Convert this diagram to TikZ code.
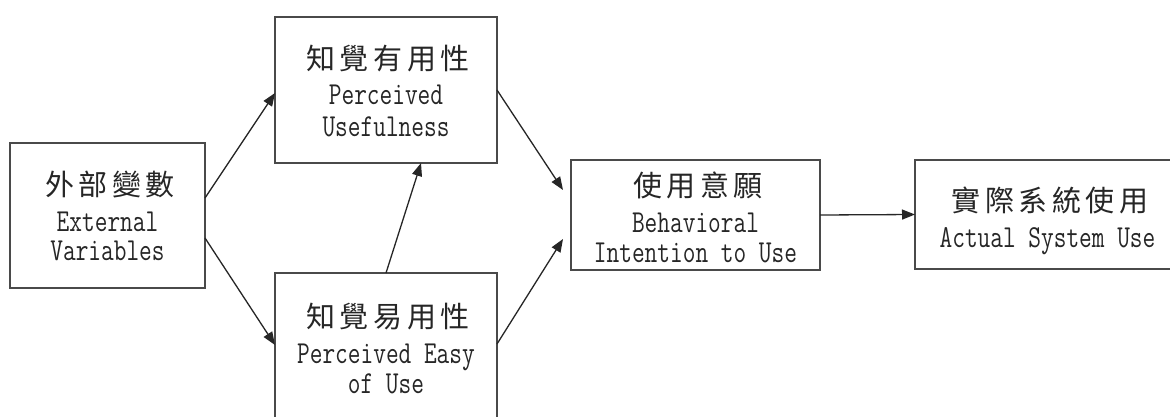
\documentclass[tikz,border=0pt]{standalone}
\usepackage{fontspec}
\usetikzlibrary{arrows.meta}
\newfontfamily\zhfont[LetterSpace=16]{Noto Sans CJK TC}
\newfontfamily\enfont[FakeStretch=0.77]{Latin Modern Mono}
\definecolor{boxline}{HTML}{4A4A4A}
\definecolor{ink}{HTML}{262626}
\begin{document}
\begin{tikzpicture}[x=1pt,y=-1pt,
  box/.style={draw=boxline, line width=2pt, fill=white, inner sep=0pt, outer sep=0pt, rectangle},
  zh/.style={font=\zhfont\fontsize{29}{32}\selectfont, text=ink, anchor=center, inner sep=0pt},
  en/.style={font=\enfont\fontsize{32}{36}\selectfont, text=ink, anchor=base, inner sep=0pt},
  arr/.style={draw=ink, line width=1.3pt, -{Triangle[length=13pt,width=10pt]}}]
\useasboundingbox[fill=white] (0,0) rectangle (1170,417);

% TAM constructs
\node[box, minimum width=195pt, minimum height=145pt] (ext) at (107.5,215.5) {};
\node[box, minimum width=222pt, minimum height=146pt] (pu)  at (386,90) {};
\node[box, minimum width=222pt, minimum height=152pt] (peu) at (386,349) {};
\node[box, minimum width=249pt, minimum height=110pt] (bi)  at (695.5,215) {};
\node[box, minimum width=265pt, minimum height=109pt] (asu) at (1047.5,214.5) {};

% labels
\node[zh] (ext-zh) at (110,185) {外部變數};
\node[en] (ext-en1) at (107.5,231) {External};
\node[en] (ext-en2) at (107.5,260) {Variables};

\node[zh] (pu-zh) at (388,59) {知覺有用性};
\node[en] (pu-en1) at (386,105) {Perceived};
\node[en] (pu-en2) at (386,137) {Usefulness};

\node[zh] (peu-zh) at (388,317) {知覺易用性};
\node[en] (peu-en1) at (386,363) {Perceived Easy};
\node[en] (peu-en2) at (386,393) {of Use};

\node[zh] (bi-zh) at (698,185.5) {使用意願};
\node[en] (bi-en1) at (695.5,232) {Behavioral};
\node[en] (bi-en2) at (695.5,262) {Intention to Use};

\node[zh] (asu-zh) at (1050,200) {實際系統使用};
\node[en] (asu-en) at (1047.5,247) {Actual System Use};

% relations
\draw[arr] ([yshift=17.5pt]ext.east) -- ([yshift=-3pt]pu.west);
\draw[arr] ([yshift=-22.5pt]ext.east) -- ([yshift=4pt]peu.west);
\draw[arr] (peu.north) -- ([xshift=35pt]pu.south);
\draw[arr] (pu.east) -- ([xshift=-8pt,yshift=25pt]bi.west);
\draw[arr] ([yshift=5pt]peu.east) -- ([xshift=-8pt,yshift=-24pt]bi.west);
\draw[arr] (bi.east) -- (asu.west);
\end{tikzpicture}
\end{document}
